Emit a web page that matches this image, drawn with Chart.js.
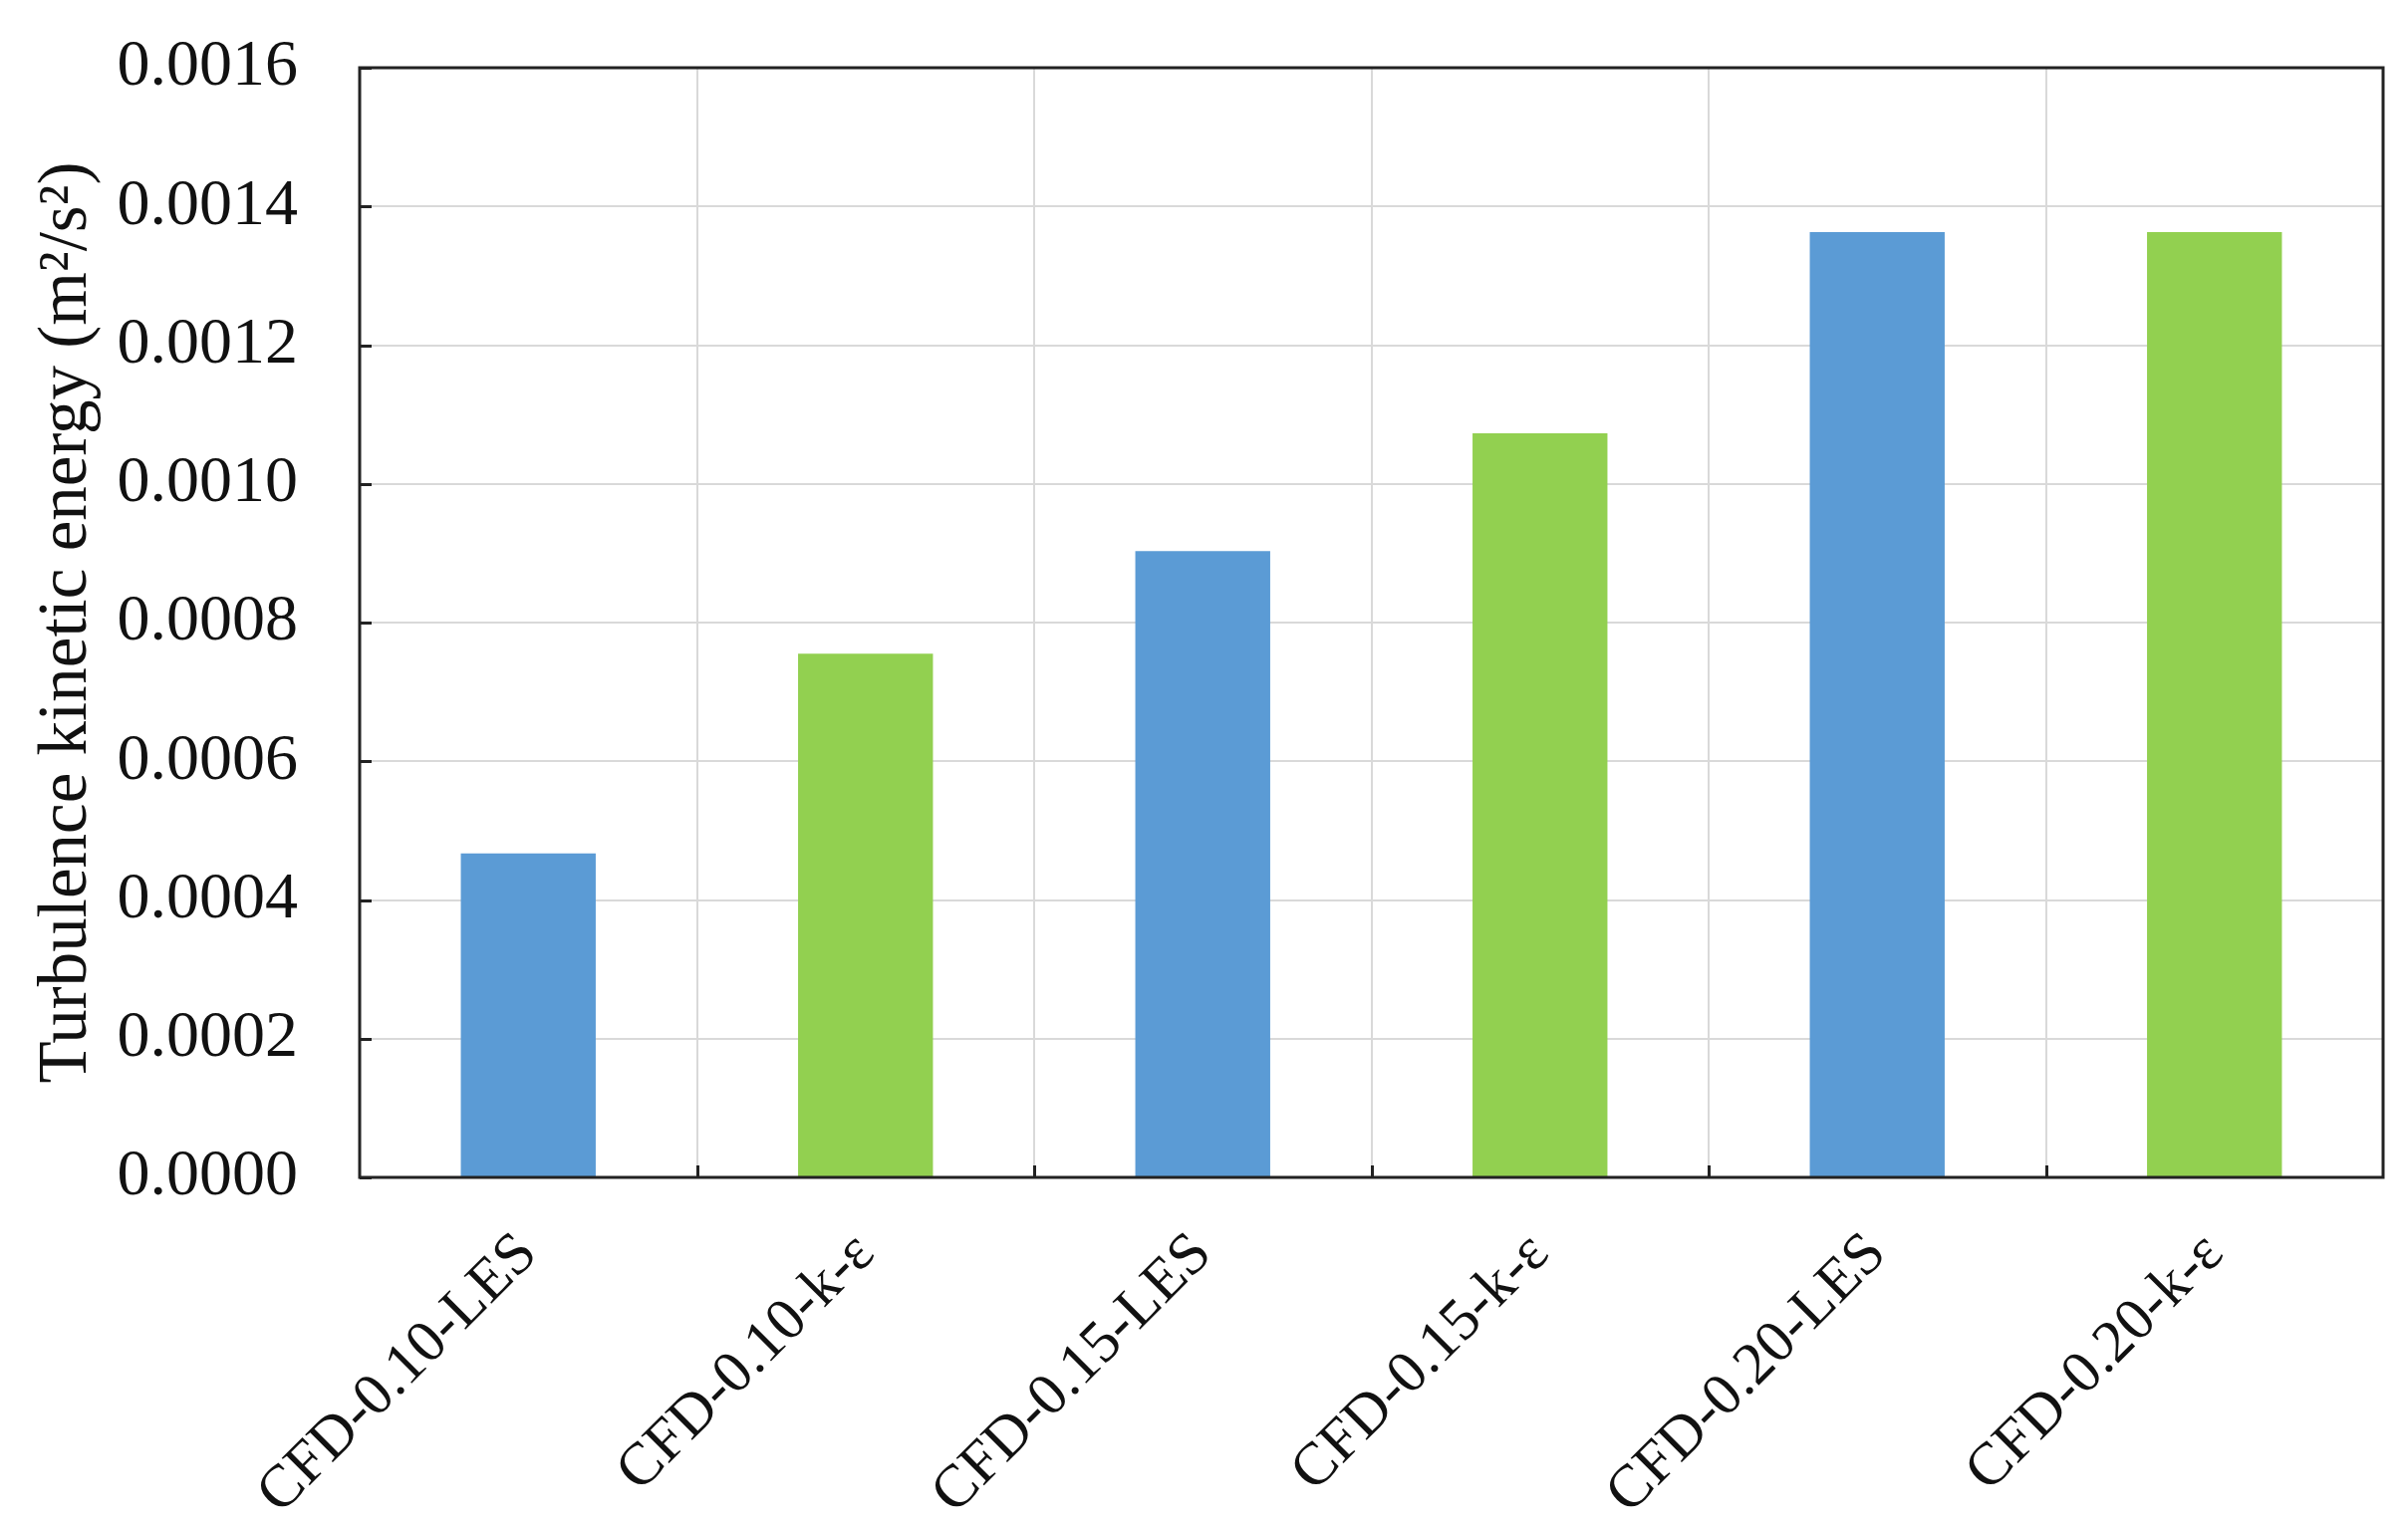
<!DOCTYPE html>
<html>
<head>
<meta charset="utf-8">
<script src="https://cdn.jsdelivr.net/npm/chart.js@4"></script>
<style>
  html, body { margin: 0; padding: 0; background: #ffffff; }
  #wrap { width: 2417px; height: 1538px; position: relative; }
</style>
</head>
<body>
<div id="wrap"><canvas id="c" width="2417" height="1538"></canvas></div>
<script>
const categories = ["CFD-0.10-LES", "CFD-0.10-k-ε", "CFD-0.15-LES", "CFD-0.15-k-ε", "CFD-0.20-LES", "CFD-0.20-k-ε"];
const tkeValues = [0.000467, 0.000755, 0.000903, 0.001073, 0.001363, 0.001363];
const yTickMin = 0;
const yTickMax = 0.0016;
const yTickStep = 0.0002;
const yTitle = "Turbulence kinetic energy (m²/s²)";

const BLUE = "#5B9BD5";
const GREEN = "#92D050";
const FONT = "'Times New Roman', 'Liberation Serif', Times, serif";

const frame = {
  id: 'frame',
  afterDraw(chart) {
    const ctx = chart.ctx;
    const a = chart.chartArea;
    const ys = chart.scales.y, xs = chart.scales.x;
    ctx.save();
    ctx.strokeStyle = '#222222';
    ctx.lineWidth = 3;
    ctx.beginPath();
    ys.ticks.forEach(t => {
      const y = Math.round(ys.getPixelForValue(t.value)) + 0.5;
      ctx.moveTo(a.left, y); ctx.lineTo(a.left + 12, y);
    });
    for (let i = 0; i < categories.length - 1; i++) {
      const x = Math.round(xs.getPixelForValue(i + 0.5)) + 0.5;
      ctx.moveTo(x, a.bottom); ctx.lineTo(x, a.bottom - 12);
    }
    ctx.stroke();
    ctx.strokeRect(a.left, a.top, a.right - a.left, a.bottom - a.top);
    ctx.restore();
  }
};

new Chart(document.getElementById('c'), {
  type: 'bar',
  data: {
    labels: categories,
    datasets: [{
      data: tkeValues,
      backgroundColor: categories.map(c => c.endsWith('LES') ? BLUE : GREEN),
      borderWidth: 0,
      barPercentage: 0.4,
      categoryPercentage: 1.0
    }]
  },
  options: {
    responsive: false,
    animation: false,
    devicePixelRatio: 1,
    layout: { padding: { top: 68, right: 25, left: 0, bottom: 0 } },
    plugins: { legend: { display: false }, tooltip: { enabled: false } },
    scales: {
      x: {
        offset: true,
        grid: { display: true, offset: true, color: '#d9d9d9', lineWidth: 2, drawTicks: false },
        border: { display: false },
        ticks: {
          color: '#111111',
          font: { family: FONT, size: 60 },
          minRotation: 45,
          maxRotation: 45,
          padding: 42,
          autoSkip: false
        },
        afterFit(scale) { scale.height = 356; scale.paddingLeft = 0; scale.paddingRight = 0; }
      },
      y: {
        min: yTickMin,
        max: yTickMax,
        grid: { color: '#d9d9d9', lineWidth: 2, drawTicks: false },
        border: { display: false },
        ticks: {
          stepSize: yTickStep,
          color: '#111111',
          font: { family: FONT, size: 66 },
          padding: 62,
          callback: v => Number(v).toFixed(4)
        },
        title: {
          display: true,
          text: yTitle,
          color: '#111111',
          font: { family: FONT, size: 69 },
          padding: { top: 26, bottom: 10 }
        },
        afterFit(scale) { scale.width = 361; scale.paddingTop = 0; scale.paddingBottom = 0; }
      }
    }
  },
  plugins: [frame]
});
</script>
</body>
</html>
